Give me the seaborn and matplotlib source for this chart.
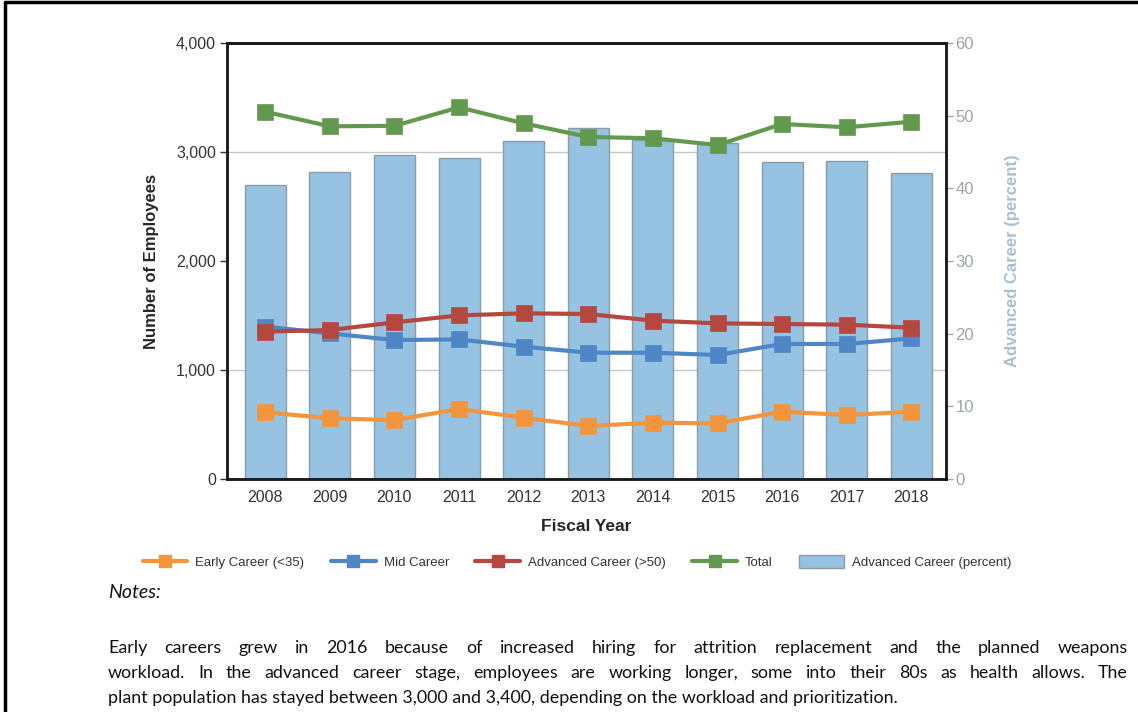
import numpy as np
import pandas as pd
import matplotlib
matplotlib.use('Agg')
import matplotlib.pyplot as plt
import seaborn as sns
from matplotlib.lines import Line2D
from matplotlib.patches import Patch

# Data
years = ['2008', '2009', '2010', '2011', '2012', '2013', '2014', '2015', '2016', '2017', '2018']
early = [612, 557, 541, 642, 563, 486, 517, 511, 618, 587, 618]
mid = [1398, 1336, 1275, 1281, 1214, 1159, 1159, 1138, 1239, 1239, 1290]
advanced = [1352, 1367, 1437, 1501, 1520, 1514, 1453, 1428, 1422, 1416, 1388]
total = [3370, 3236, 3240, 3410, 3263, 3138, 3126, 3064, 3257, 3227, 3278]
adv_pct = [40.5, 42.2, 44.6, 44.2, 46.5, 48.3, 46.6, 46.2, 43.6, 43.8, 42.1]

series_names = ['Early Career (<35)', 'Mid Career', 'Advanced Career (>50)', 'Total']
series_vals = [early, mid, advanced, total]
colors = ['#f3953d', '#4f86c6', '#b4483f', '#62994f']
bar_color = '#96c3e2'

notes_lines = [
    "Early careers grew in 2016 because of increased hiring for attrition replacement and the planned weapons",
    "workload.  In the advanced career stage, employees are working longer, some into their 80s as health allows.  The",
    "plant population has stayed between 3,000 and 3,400, depending on the workload and prioritization.",
]

sns.set_style('white')
plt.rcParams['font.family'] = ['Liberation Sans', 'DejaVu Sans']

fig = plt.figure(figsize=(11.38, 7.12), dpi=100)
ax = fig.add_axes([0.1995, 0.3272, 0.6315, 0.6124])
ax2 = ax.twinx()

pos = np.arange(len(years))

# bars on the percent axis (behind)
bar_df = pd.DataFrame({'pos': pos, 'pct': adv_pct})
sns.barplot(data=bar_df, x='pos', y='pct', ax=ax2, color=bar_color, width=0.635,
            edgecolor='#8c9ba8', linewidth=1.0, saturation=1)
ax2.set_ylim(0, 60)
ax2.set_yticks([0, 10, 20, 30, 40, 50, 60])
ax2.set_yticks([15, 30, 45], minor=True)
ax2.grid(which='minor', axis='y', color='#c8c8c8', linewidth=1.0)
ax2.grid(which='major', visible=False)
ax2.set_axisbelow(True)
ax2.tick_params(axis='y', which='major', colors='#9da5ab', labelsize=12, length=5, width=1, pad=2)
ax2.tick_params(axis='y', which='minor', length=0)
ax2.set_ylabel('Advanced Career (percent)', color='#a9bfd2', fontsize=12, fontweight='bold', labelpad=22)
ax2.set_xlabel('')

# lines on the employee axis (front)
ax.set_zorder(ax2.get_zorder() + 1)
ax.patch.set_visible(False)
for name, vals, c in zip(series_names, series_vals, colors):
    df = pd.DataFrame({'pos': pos, 'value': vals})
    sns.lineplot(data=df, x='pos', y='value', ax=ax, color=c, linewidth=3,
                 marker='s', markersize=11, markeredgecolor=c, markeredgewidth=0.5)

ax.set_ylim(0, 4000)
ax.set_yticks([0, 1000, 2000, 3000, 4000])
ax.set_yticklabels(['0', '1,000', '2,000', '3,000', '4,000'])
ax.set_xlim(-0.59, len(years) - 0.47)
ax.set_xticks(pos)
ax.set_xticklabels(years)
ax.tick_params(axis='both', colors='#333333', labelsize=11.5, length=5, width=1, pad=3)
ax.tick_params(axis='x', length=0, pad=8)
ax.set_ylabel('Number of Employees', fontsize=12, fontweight='bold', labelpad=12)
ax.set_xlabel('Fiscal Year', fontsize=12.5, fontweight='bold', labelpad=10)

for a in (ax, ax2):
    for s in a.spines.values():
        s.set_color('#1a1a1a')
    a.spines['top'].set_linewidth(2)
    a.spines['left'].set_linewidth(1.8)
    a.spines['right'].set_linewidth(1.8)
    a.spines['bottom'].set_linewidth(1.8)
ax2.set_xlim(ax.get_xlim())

# legend
handles = [Line2D([0], [0], color=c, lw=3, marker='s', markersize=9) for c in colors]
handles.append(Patch(facecolor=bar_color, edgecolor='#8c9ba8'))
fig.legend(handles, series_names + ['Advanced Career (percent)'], loc='center',
           bbox_to_anchor=(0.507, 1 - 562 / 712), ncol=5, frameon=False, fontsize=9.5,
           handlelength=3.4, handleheight=1.2, columnspacing=2.0, handletextpad=0.6,
           labelcolor='#333333')

# notes
note_font = ['Lato', 'DejaVu Sans']
fig.text(108 / 1138, 1 - 598 / 712, 'Notes:', fontsize=14, style='italic',
         family=note_font, va='baseline', color='#111111')

renderer = fig.canvas.get_renderer()
x0, x1 = 108, 1128
line_y = [653, 678, 703]
for i, (line, yy) in enumerate(zip(notes_lines, line_y)):
    yf = 1 - yy / 712
    if i == len(notes_lines) - 1:
        fig.text(x0 / 1138, yf, line, fontsize=12.9, family=note_font,
                 va='baseline', color='#111111')
        continue
    words = line.split()
    texts = [fig.text(0, yf, w, fontsize=12.9, family=note_font,
                      va='baseline', color='#111111') for w in words]
    widths = [t.get_window_extent(renderer).width for t in texts]
    gap = (x1 - x0 - sum(widths)) / (len(words) - 1)
    xx = x0
    for t, w in zip(texts, widths):
        t.set_x(xx / 1138)
        xx += w + gap

# page border (top and left)
fig.add_artist(Line2D([5 / 1138, 1], [1 - 2 / 712, 1 - 2 / 712], color='black', lw=2.5,
                      transform=fig.transFigure))
fig.add_artist(Line2D([5 / 1138, 5 / 1138], [0, 1 - 2 / 712], color='black', lw=2.5,
                      transform=fig.transFigure))

fig.savefig('out.png', dpi=100)
